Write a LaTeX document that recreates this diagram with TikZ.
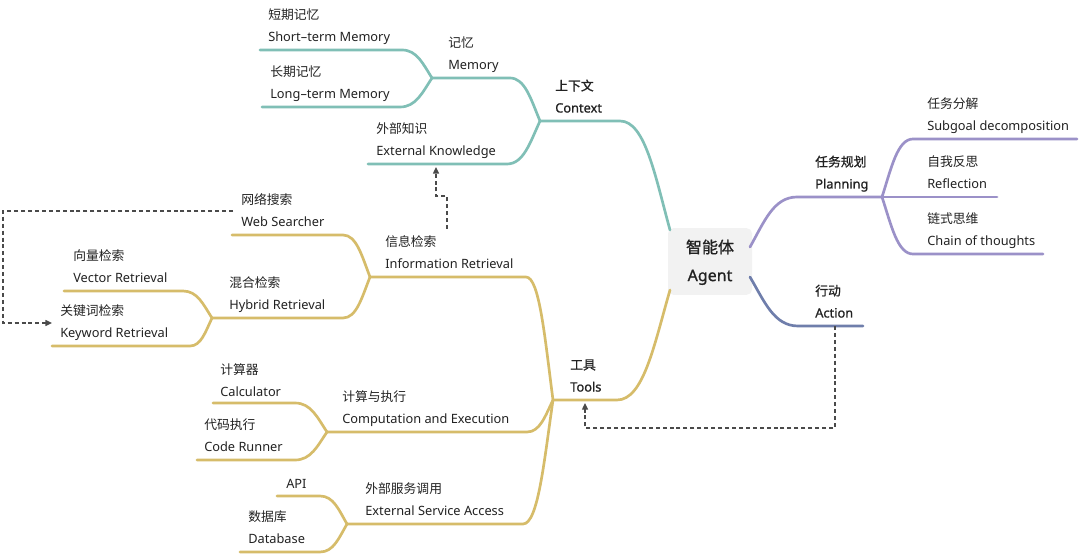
\documentclass[tikz,border=0pt]{standalone}
\usepackage{fontspec}
\setmainfont{Noto Sans}
\newfontfamily\cjk{Noto Sans CJK SC}
\newfontfamily\cjkb[FakeBold=1]{Noto Sans CJK SC}
\newfontfamily\latb[FakeBold=1]{Noto Sans}
\usetikzlibrary{calc,arrows.meta}
\definecolor{cteal}{HTML}{80BFB6}
\definecolor{cgold}{HTML}{D6BC6A}
\definecolor{cpurp}{HTML}{9B91C8}
\definecolor{cact}{HTML}{6F7EAB}
\definecolor{ctext}{HTML}{222222}
\definecolor{cdash}{HTML}{4A4A4A}
\definecolor{cbox}{HTML}{F2F2F2}
\begin{document}
\begin{tikzpicture}[x=0.75pt,y=-0.75pt,
  en/.style={anchor=base west, inner sep=0pt, text=ctext, font=\fontsize{9.6pt}{12pt}\selectfont},
  cn/.style={anchor=base west, inner sep=0pt, text=ctext, font=\fontsize{9.6pt}{12pt}\selectfont\cjk},
  enb/.style={en, font=\fontsize{9.6pt}{12pt}\selectfont\latb},
  cnb/.style={cn, font=\fontsize{9.6pt}{12pt}\selectfont\cjkb},
  branch/.style={to path={let \p1=(\tikztostart), \p2=(\tikztotarget) in
     .. controls ({\x1+0.5*(\x2-\x1)},\y1) and ({\x2-0.3*(\x2-\x1)},{\y2-0.5*(\y2-\y1)}) .. (\tikztotarget)}},
  wire/.style={line width=2pt, line cap=round},
  tealw/.style={wire, draw=cteal},
  goldw/.style={wire, draw=cgold},
  purpw/.style={wire, draw=cpurp},
  actw/.style={wire, draw=cact},
  link/.style={draw=cdash, line width=1pt, dash pattern=on 3pt off 2.2pt, -{Triangle[length=5pt,width=4.5pt]}},
  rootbox/.style={rectangle, rounded corners=4pt, fill=cbox, minimum width=63pt, minimum height=50pt,
     inner sep=0pt, align=center, text=ctext, font=\fontsize{12pt}{21pt}\selectfont}
]
\fill[white] (0,0) rectangle (1080,555);
\useasboundingbox (0,0) rectangle (1080,555);

% root
\node[rootbox] (root) at (710,261.5) {{\cjkb\strut 智能体}\\{\latb\strut Agent}};
\coordinate (rtT) at (670,230);
\coordinate (rtB) at (670,290);
\coordinate (rtP) at (750,247);
\coordinate (rtA) at (750,277);

% ---------- teal: context ----------
\coordinate (ctxL) at (540,121); \coordinate (ctxR) at (620,121);
\coordinate (memL) at (432,78);  \coordinate (memR) at (510,78);
\coordinate (extL) at (368,164); \coordinate (extR) at (507,164);
\coordinate (stL) at (260,50);   \coordinate (stR) at (402,50);
\coordinate (ltL) at (262,107);  \coordinate (ltR) at (400,107);
\draw[tealw] (ctxL) -- (ctxR) to[branch] (rtT);
\draw[tealw] (memL) -- (memR) to[branch] (ctxL);
\draw[tealw] (extL) -- (extR) to[branch] (ctxL);
\draw[tealw] (stL) -- (stR) to[branch] (memL);
\draw[tealw] (ltL) -- (ltR) to[branch] (memL);

% ---------- purple: planning / action ----------
\coordinate (planL) at (797,197); \coordinate (planR) at (882,197);
\coordinate (subL) at (913,139);  \coordinate (subR) at (1077,139);
\coordinate (reflR) at (997,197);
\coordinate (chL) at (913,254);   \coordinate (chR) at (1043,254);
\coordinate (actL) at (798,326);  \coordinate (actR) at (863,326);
\draw[purpw] (planR) -- (planL) to[branch] (rtP);
\draw[purpw] (subR) -- (subL) to[branch] (planR);
\draw[purpw] (planR) -- (reflR);
\draw[purpw] (chR) -- (chL) to[branch] (planR);
\draw[actw] (actR) -- (actL) to[branch] (rtA);

% ---------- gold: tools ----------
\coordinate (toolsL) at (553,400); \coordinate (toolsR) at (617,400);
\coordinate (irL) at (370,277);    \coordinate (irR) at (526,277);
\coordinate (webL) at (232,235);   \coordinate (webR) at (343,235);
\coordinate (hybL) at (212,318);   \coordinate (hybR) at (343,318);
\coordinate (vecL) at (64,291);    \coordinate (vecR) at (183,291);
\coordinate (kwL) at (52,346);     \coordinate (kwR) at (190,346);
\coordinate (compL) at (327,432);  \coordinate (compR) at (527,432);
\coordinate (calcL) at (213,403);  \coordinate (calcR) at (295,403);
\coordinate (codeL) at (197,460);  \coordinate (codeR) at (295,460);
\coordinate (svcL) at (347,524);   \coordinate (svcR) at (523,524);
\coordinate (apiL) at (277,496);   \coordinate (apiR) at (320,496);
\coordinate (dbL) at (240,552);    \coordinate (dbR) at (320,552);
\draw[goldw] (toolsL) -- (toolsR) to[branch] (rtB);
\draw[goldw] (irL) -- (irR) to[branch] (toolsL);
\draw[goldw] (webL) -- (webR) to[branch] (irL);
\draw[goldw] (hybL) -- (hybR) to[branch] (irL);
\draw[goldw] (vecL) -- (vecR) to[branch] (hybL);
\draw[goldw] (kwL) -- (kwR) to[branch] (hybL);
\draw[goldw] (compL) -- (compR) to[branch] (toolsL);
\draw[goldw] (calcL) -- (calcR) to[branch] (compL);
\draw[goldw] (codeL) -- (codeR) to[branch] (compL);
\draw[goldw] (svcL) -- (svcR) to[branch] (toolsL);
\draw[goldw] (apiL) -- (apiR) to[branch] (svcL);
\draw[goldw] (dbL) -- (dbR) to[branch] (svcL);

% ---------- labels ----------
\node[cn] (stC) at (268,19.5) {短期记忆};
\node[en] (stE) at (268,41.5) {Short–term Memory};
\node[cn] (ltC) at (270,76.5) {长期记忆};
\node[en] (ltE) at (270,98.5) {Long–term Memory};
\node[cn] (memC) at (448,47.5) {记忆};
\node[en] (memE) at (448,69.5) {Memory};
\node[cnb] (ctxC) at (555,90.5) {上下文};
\node[enb] (ctxE) at (555,112.5) {Context};
\node[cn] (extC) at (376,133.5) {外部知识};
\node[en] (extE) at (376,155.5) {External Knowledge};

\node[cnb] (planC) at (815,166.5) {任务规划};
\node[enb] (planE) at (815,188.5) {Planning};
\node[cn] (subC) at (927,108.5) {任务分解};
\node[en] (subE) at (927,130.5) {Subgoal decomposition};
\node[cn] (reflC) at (927,166.5) {自我反思};
\node[en] (reflE) at (927,188.5) {Reflection};
\node[cn] (chC) at (927,223.5) {链式思维};
\node[en] (chE) at (927,245.5) {Chain of thoughts};
\node[cnb] (actC) at (815,295.5) {行动};
\node[enb] (actE) at (815,317.5) {Action};

\node[cn] (webC) at (241,204.5) {网络搜索};
\node[en] (webE) at (241,226.5) {Web Searcher};
\node[cn] (irC) at (385,246.5) {信息检索};
\node[en] (irE) at (385,268.5) {Information Retrieval};
\node[cn] (vecC) at (73,260.5) {向量检索};
\node[en] (vecE) at (73,282.5) {Vector Retrieval};
\node[cn] (hybC) at (229,287.5) {混合检索};
\node[en] (hybE) at (229,309.5) {Hybrid Retrieval};
\node[cn] (kwC) at (60,315.5) {关键词检索};
\node[en] (kwE) at (60,337.5) {Keyword Retrieval};
\node[cnb] (toolsC) at (570,369.5) {工具};
\node[enb] (toolsE) at (570,391.5) {Tools};
\node[cn] (calcC) at (220,374) {计算器};
\node[en] (calcE) at (220,396) {Calculator};
\node[cn] (codeC) at (204,429.5) {代码执行};
\node[en] (codeE) at (204,451.5) {Code Runner};
\node[cn] (compC) at (342,401.5) {计算与执行};
\node[en] (compE) at (342,423.5) {Computation and Execution};
\node[cn] (svcC) at (365,493.5) {外部服务调用};
\node[en] (svcE) at (365,515.5) {External Service Access};
\node[en] (apiE) at (286,488) {API};
\node[cn] (dbC) at (248,521.5) {数据库};
\node[en] (dbE) at (248,543.5) {Database};

% ---------- dashed links ----------
\coordinate (actD) at (835,326);
\coordinate (toolsD) at (585,403);
\coordinate (irD) at (447,229);
\coordinate (extD) at (436,167);
\coordinate (webD) at (233,211);
\coordinate (kwD) at (52,323);
\draw[link] (actD) -- ++(0,102) -| (toolsD);
\draw[link] (irD) -- ++(0,-33) -| (extD);
\draw[link] (webD) -- ++(-230,0) |- (kwD);
\end{tikzpicture}
\end{document}
